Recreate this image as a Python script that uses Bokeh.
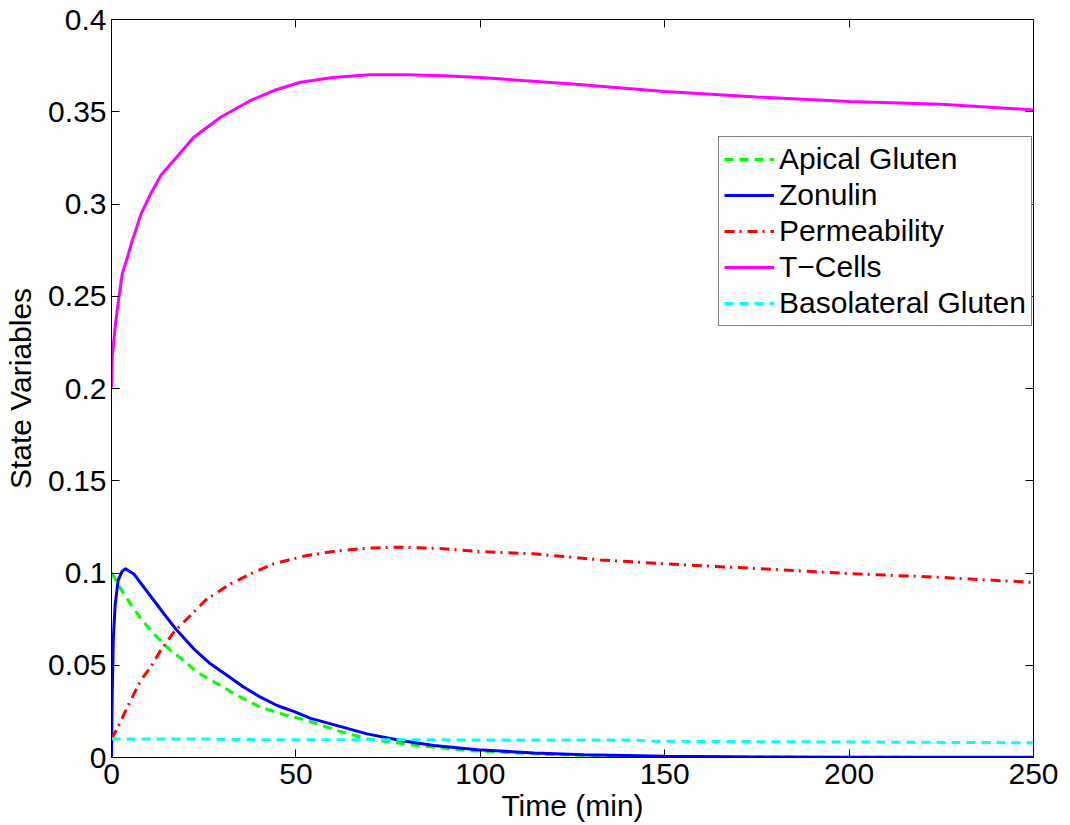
from bokeh.plotting import figure
from bokeh.models import LinearAxis, FixedTicker, Legend, LegendItem, Range1d
from bokeh.embed import file_html
from bokeh.resources import INLINE

# ---- data ----
t_apical = [0, 0.2, 3.3, 6.05, 8.76, 12.4, 16, 19.6, 23.2, 28.7, 34.1, 40.4, 46.7, 53.1, 61.2, 69.3, 82.9,
            96.4, 114.6, 130, 150, 200, 250]
apical = [0.100, 0.0995, 0.0887, 0.0806, 0.0733, 0.0652, 0.058, 0.0526, 0.0462, 0.040, 0.0336, 0.0273,
          0.0233, 0.020, 0.0146, 0.0101, 0.0065, 0.0038, 0.0020, 0.0010, 0.0004, 0.0001, 0.0]

t_zonulin = [0, 0.1, 0.2, 0.5, 1.0, 1.8, 2.9, 3.8, 6.05, 8.76, 11.5, 14.2, 17.8, 22.3, 26.8, 31.4, 35.9,
             40.4, 44.9, 49.4, 54, 61.2, 69.3, 78.4, 87.4, 99.2, 114.6, 128, 150, 175, 200, 250]
zonulin = [0.0, 0.018, 0.035, 0.065, 0.083, 0.096, 0.101, 0.1023, 0.0995, 0.0923, 0.0851, 0.0779, 0.0688,
           0.0589, 0.0508, 0.0444, 0.0381, 0.0327, 0.0282, 0.0250, 0.0212, 0.0173, 0.0128, 0.0092, 0.0065,
           0.0042, 0.0025, 0.0015, 0.0007, 0.0003, 0.0002, 0.0001]

t_perm = [0, 1.5, 4.3, 7.9, 10.6, 13.3, 16.9, 21.4, 25.9, 32.3, 37.7, 44, 53, 61.2, 70, 78, 90, 100, 114.4,
          132.6, 150, 175, 200, 225, 250]
perm = [0.010, 0.0155, 0.0273, 0.0417, 0.0489, 0.058, 0.0679, 0.077, 0.086, 0.0941, 0.0995, 0.105, 0.1095,
        0.112, 0.1135, 0.1140, 0.1132, 0.1116, 0.1104, 0.1071, 0.105, 0.1024, 0.0997, 0.0976, 0.0949]

t_tcells = [0, 0.18, 1.08, 2, 2.9, 4.3, 5.6, 8, 10.6, 13.5, 16.9, 22.3, 29.6, 37.7, 44, 51.2, 60, 70, 80,
            90, 100, 125, 150, 175, 200, 225, 250]
tcells = [0.2007, 0.217, 0.235, 0.2495, 0.262, 0.271, 0.280, 0.2945, 0.3055, 0.3158, 0.3236, 0.3362, 0.347,
          0.3561, 0.3615, 0.366, 0.3686, 0.370, 0.370, 0.3695, 0.3686, 0.365, 0.361, 0.358, 0.3556, 0.354,
          0.351]

t_baso = [0, 25, 45, 140, 148, 200, 250]
baso = [0.0101, 0.0100, 0.0096, 0.0095, 0.0088, 0.0084, 0.0080]

x_ticks = [0, 50, 100, 150, 200, 250]
y_ticks = [0, 0.05, 0.1, 0.15, 0.2, 0.25, 0.3, 0.35, 0.4]
y_tick_labels = ["0", "0.05", "0.1", "0.15", "0.2", "0.25", "0.3", "0.35", "0.4"]

FONT = "Liberation Sans"
FS = "30px"

p = figure(width=1070, height=825, output_backend="svg", toolbar_location=None,
           x_range=Range1d(0, 250), y_range=Range1d(0, 0.4),
           min_border_left=111, min_border_right=37, min_border_top=19, min_border_bottom=68,
           x_axis_label="Time (min)", y_axis_label="State Variables")
p.grid.visible = False
p.outline_line_color = "black"
p.background_fill_color = "white"
p.border_fill_color = "white"

for ax in (p.xaxis[0], p.yaxis[0]):
    ax.major_tick_in = 8
    ax.major_tick_out = 0
    ax.minor_tick_in = 0
    ax.minor_tick_out = 0
    ax.axis_line_color = "black"
    ax.major_tick_line_color = "black"
    ax.major_label_text_font = FONT
    ax.major_label_text_font_size = FS
    ax.major_label_text_color = "black"
    ax.axis_label_text_font = FONT
    ax.axis_label_text_font_size = FS
    ax.axis_label_text_font_style = "normal"
    ax.axis_label_text_color = "black"

p.xaxis[0].ticker = FixedTicker(ticks=x_ticks)
p.yaxis[0].ticker = FixedTicker(ticks=y_ticks)
p.yaxis[0].major_label_overrides = {v: s for v, s in zip(y_ticks, y_tick_labels)}
p.xaxis[0].major_label_standoff = 6
p.xaxis[0].axis_label_standoff = 2
p.yaxis[0].major_label_standoff = 5
p.yaxis[0].axis_label_standoff = 8

top = LinearAxis(ticker=FixedTicker(ticks=x_ticks),
                 major_label_overrides={v: "" for v in x_ticks},
                 major_tick_in=8, major_tick_out=0, minor_tick_in=0, minor_tick_out=0,
                 major_label_standoff=0, axis_line_color="black")
right = LinearAxis(ticker=FixedTicker(ticks=y_ticks),
                   major_label_overrides={v: "" for v in y_ticks},
                   major_tick_in=8, major_tick_out=0, minor_tick_in=0, minor_tick_out=0,
                   major_label_standoff=0, axis_line_color="black")
p.add_layout(top, "above")
p.add_layout(right, "right")

LW = 3
r_ap = p.line(t_apical, apical, line_color="#00ff00", line_width=LW, line_dash="9 6")
r_zo = p.line(t_zonulin, zonulin, line_color="#0000ff", line_width=LW)
r_pe = p.line(t_perm, perm, line_color="#ff0000", line_width=LW, line_dash="10 5 2 6")
r_tc = p.line(t_tcells, tcells, line_color="#ff00ff", line_width=LW)
r_ba = p.line(t_baso, baso, line_color="#00ffff", line_width=LW, line_dash="9 6")

legend = Legend(items=[
    LegendItem(label="Apical Gluten", renderers=[r_ap]),
    LegendItem(label="Zonulin", renderers=[r_zo]),
    LegendItem(label="Permeability", renderers=[r_pe]),
    LegendItem(label="T\u2212Cells", renderers=[r_tc]),
    LegendItem(label="Basolateral Gluten", renderers=[r_ba]),
], location=(607, 431))
legend.border_line_color = "black"
legend.border_line_width = 1
legend.background_fill_color = "white"
legend.background_fill_alpha = 1
legend.label_text_font = FONT
legend.label_text_font_size = FS
legend.label_text_color = "black"
legend.glyph_width = 50
legend.glyph_height = 30
legend.label_height = 30
legend.spacing = 2
legend.padding = 5
legend.margin = 0
legend.label_standoff = 5
p.add_layout(legend)

open("out.html", "w").write(file_html(p, INLINE))
